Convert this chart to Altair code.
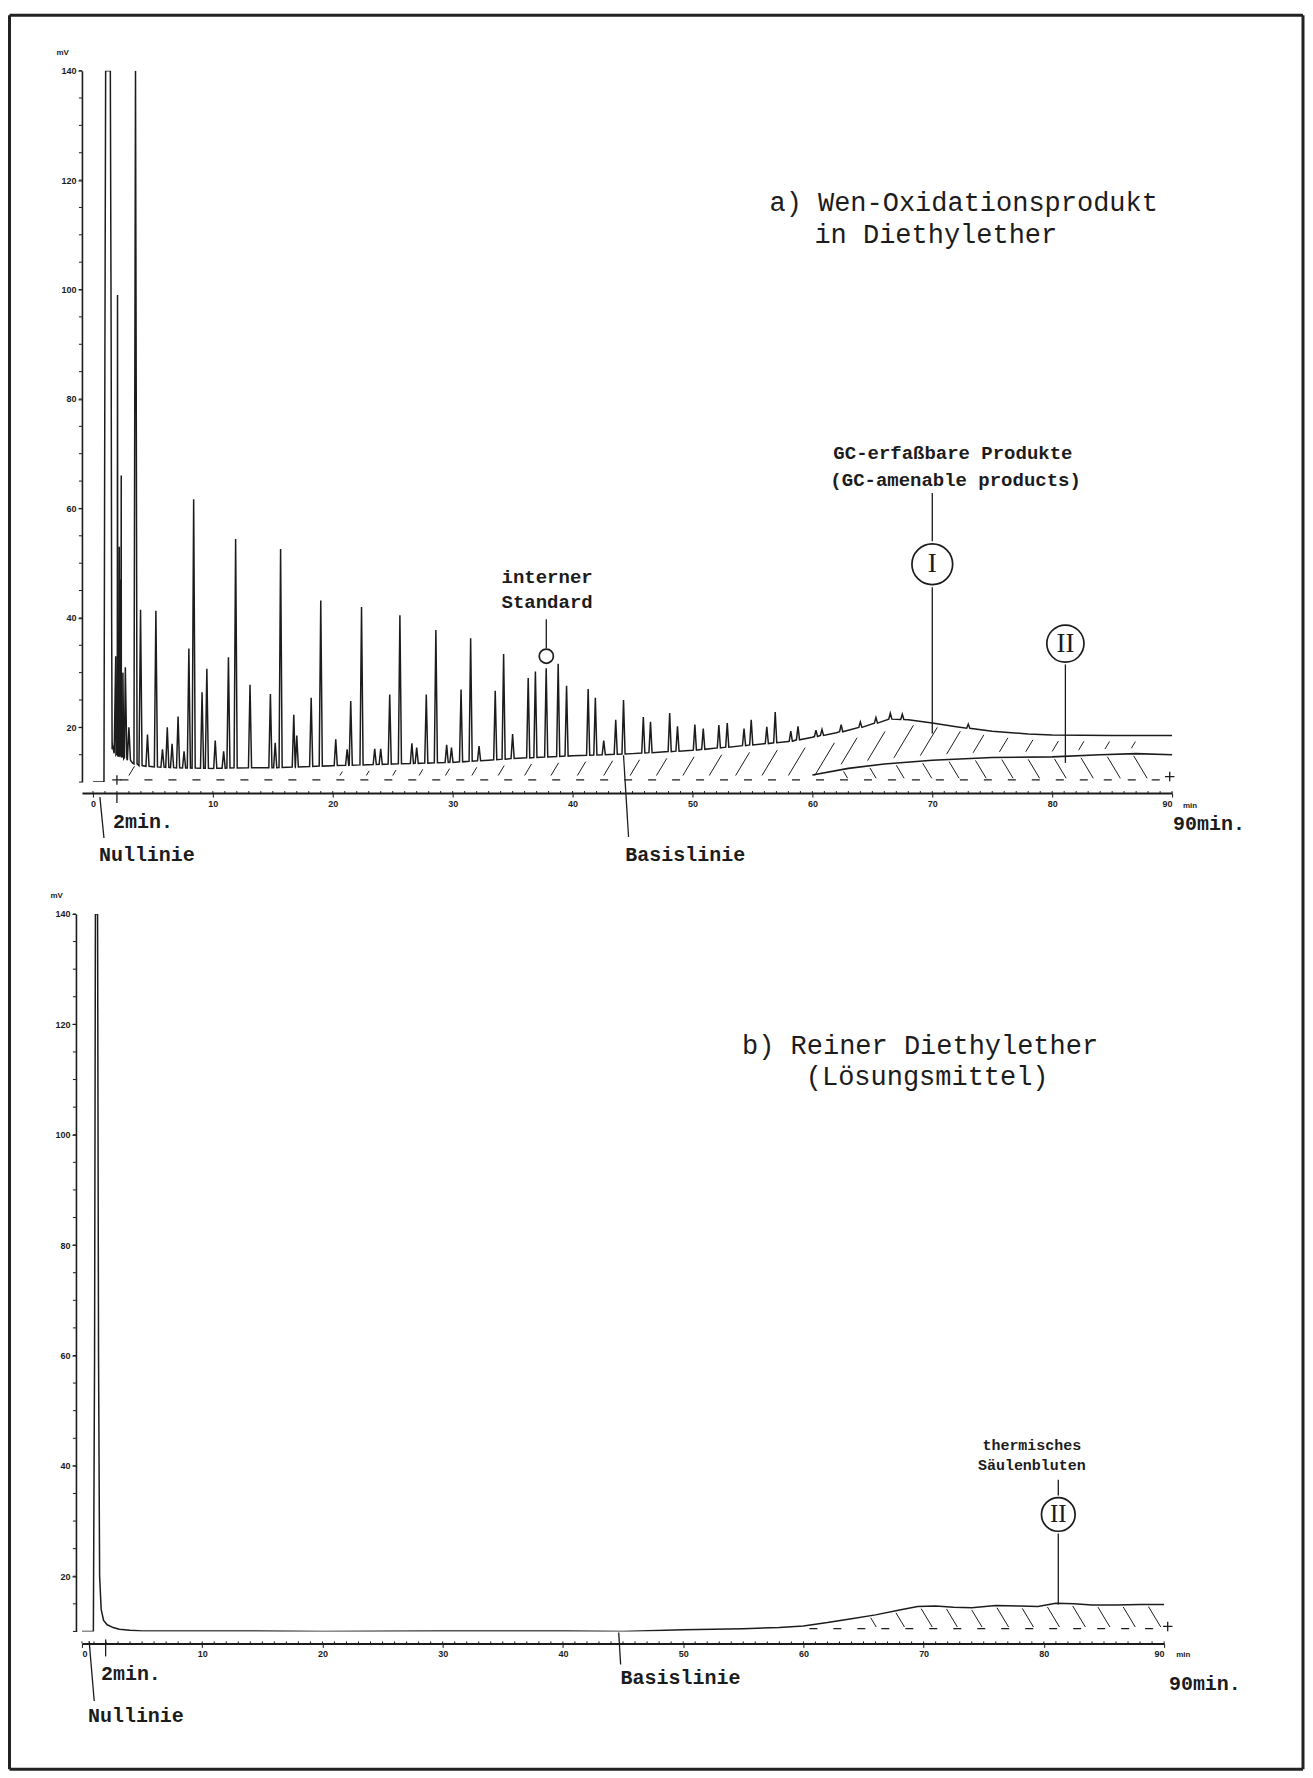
import altair as alt
import numpy as np
import pandas as pd

INK = "#1c1c1c"
MONO = "Liberation Mono"
SERIF = "Liberation Serif"
SANS = "Liberation Sans"

# ---------------- panel a: GC trace of the oxidation product ----------------
a_null_t = [0.0, 0.9]
a_null_v = [10.0, 10.0]
a_solv_t = [0.92, 1.0, 1.06, 1.45, 1.52, 1.56, 1.6]
a_solv_v = [10.0, 90.0, 140.0, 140.0, 90.0, 40.0, 17.0]
a_base_t = [1.6, 2.0, 2.5, 3.0, 3.3, 4, 5, 7, 10, 12, 15, 20, 25, 30, 33, 35, 40, 45,
            50, 55, 58, 60, 62, 64, 66.5, 68, 70, 72, 75, 78, 80, 85, 90]
a_base_v = [16, 15, 14.5, 14, 13.5, 13, 12.8, 12.6, 12.5, 12.6, 12.6, 13, 13.3, 13.6, 14, 14.3,
            14.8, 15.2, 15.8, 16.8, 17.4, 18.2, 19, 20, 21.5, 21.4, 20.8, 20.1, 19.3, 18.8, 18.6,
            18.5, 18.5]
a_peak_t = [1.9, 2.05, 2.2, 2.28, 2.36, 2.5, 2.7, 3.0, 3.55, 3.97, 4.55, 5.25, 5.8, 6.2, 6.6,
            7.1, 7.6, 8.0, 8.4, 9.1, 9.5, 10.2, 10.9, 11.3, 11.9, 13.1, 14.8, 15.2, 15.65, 16.75,
            17.0, 18.2, 19.0, 20.25, 21.2, 21.5, 22.4, 23.5, 24.0, 24.75, 25.6, 26.6, 27.0, 27.8,
            28.6, 29.5, 29.9, 30.7, 31.5, 32.2, 33.55, 34.25, 35.0, 36.3, 36.9, 37.8, 38.8, 39.5,
            41.3, 41.9, 42.6, 43.6, 44.25, 45.9, 46.5, 48.1, 48.75, 50.2, 50.9, 52.2, 52.9, 54.3,
            54.9, 56.2, 56.9, 58.2, 58.8, 60.3, 60.8, 62.4, 64.0, 65.3, 66.5, 67.5, 73.0]
a_peak_v = [33, 99, 53, 47, 66, 30, 31, 20, 140, 41.5, 18.7, 41.3, 16, 20, 17,
            22, 15.6, 34.4, 61.7, 26.4, 30.7, 17.6, 15.6, 32.8, 54.4, 27.8, 26.1, 17.2, 52.6, 22.3,
            18.5, 25.4, 43.2, 17.8, 16, 24.8, 42, 16.1, 16.1, 26, 40.5, 17.1, 16.3, 26,
            37.8, 16.8, 16.3, 26.9, 36.3, 16.6, 26.7, 33.4, 18.8, 29, 30.2, 30.8, 31.6, 27.6,
            27, 25.4, 17.6, 21.4, 25, 21.9, 21, 22.6, 20.2, 20.5, 19.8, 20.4, 20.8, 19.8,
            21.4, 20.1, 22.8, 19.3, 20.2, 19.5, 19.6, 20.5, 21, 21.8, 22.6, 22.4, 20.6]
a_line2_t = [60, 63, 66, 70, 75, 80, 84, 87, 90]
a_line2_v = [11.3, 12.5, 13.3, 14.0, 14.5, 14.6, 15.0, 15.2, 15.0]

# ---------------- panel b: pure solvent ----------------
b_t = [0, 0.95, 1.05, 1.12, 1.3, 1.38, 1.47, 1.6, 1.8, 2.1, 2.6, 3.1, 4.0, 5.0, 10, 20, 30, 40,
       45, 50, 55, 58, 60, 62, 64, 66, 68, 69.5, 71, 72.5, 74, 76, 78, 79.5, 81, 82.5, 84, 86,
       88, 90]
b_v = [10, 10, 60, 140, 140, 60, 20, 14, 12, 11.2, 10.7, 10.4, 10.2, 10.1, 10.1, 10.0, 10.1,
       10.1, 10.0, 10.3, 10.5, 10.7, 11.0, 11.6, 12.3, 13.0, 13.9, 14.5, 14.6, 14.4, 14.3, 14.7,
       14.6, 14.5, 15.1, 15.0, 14.8, 14.8, 14.9, 14.9]

x_ticks = [0, 10, 20, 30, 40, 50, 60, 70, 80, 90]
y_ticks = [20, 40, 60, 80, 100, 120, 140]
y_minor = list(range(10, 141, 5))
x_minor = list(range(0, 91, 1))

WA, HA = 1091, 712
WB, HB = 1083, 718
KA = HA / 130.0  # px per mV, panel a
KB = HB / 130.0


def build_trace(pre_t, pre_v, floor_t, floor_v, pk_t, pk_v, w=0.13):
    pts = list(zip(pre_t, pre_v))
    wins = [(p - w, p + w) for p in pk_t]
    for t, v in zip(floor_t, floor_v):
        if not any(a <= t <= b for a, b in wins):
            pts.append((t, v))
    for p, h in zip(pk_t, pk_v):
        fl = float(np.interp(p, floor_t, floor_v))
        pts += [(p - w, fl), (p, h), (p + w, fl)]
    pts.sort()
    df = pd.DataFrame(pts, columns=["t", "v"])
    df["o"] = range(len(df))
    return df


trace_a = build_trace(a_null_t + a_solv_t, a_null_v + a_solv_v, a_base_t, a_base_v, a_peak_t, a_peak_v)
trace_b = pd.DataFrame({"t": b_t, "v": b_v})
trace_b["o"] = range(len(trace_b))
line2_a = pd.DataFrame({"t": a_line2_t, "v": a_line2_v})


def floor_a(t):
    return float(np.interp(t, a_base_t, a_base_v))


def line2(t):
    return float(np.interp(t, a_line2_t, a_line2_v))


def floor_b(t):
    return float(np.interp(t, b_t, b_v))


# hatch strokes (decorative fill pattern of the integrated areas)
rows = []
for t in np.arange(3.0, 88.5, 2.2):
    lo = 11.2 if t < 60.5 else line2(t) + 1.0
    hi = floor_a(t) - 1.1
    if hi - lo > 0.6:
        dt = (hi - lo) * KA / 12.0 * 0.6
        rows.append({"t": t, "v": lo, "t2": t + dt, "v2": hi})
hatch_a1 = pd.DataFrame(rows)
rows = []
for t in np.arange(62.6, 88.8, 2.2):
    hi = line2(t) - 0.4
    lo = 10.7
    dt = (hi - lo) * KA / 12.0 * 0.6
    rows.append({"t": t, "v": hi, "t2": t + dt, "v2": lo})
hatch_a2 = pd.DataFrame(rows)
rows = []
for t in np.arange(65.6, 88.8, 2.1):
    hi = floor_b(t) - 0.4
    lo = 10.8
    if hi - lo > 0.6:
        dt = (hi - lo) * KB / 12.0 * 0.6
        rows.append({"t": t, "v": hi, "t2": t + dt, "v2": lo})
hatch_b = pd.DataFrame(rows)


def make_axes(xoff, yoff):
    xax = alt.Axis(values=x_ticks, title=None, grid=False, tickSize=4, tickColor=INK,
                   domainColor=INK, domainWidth=2, labelFont=SANS, labelFontSize=9,
                   labelFontWeight="bold", labelColor=INK, labelPadding=2, offset=xoff)
    yax = alt.Axis(values=y_ticks, title="mV", titleAngle=0, titleX=-26, titleY=-14,
                   titleAlign="left", titleFont=SANS, titleFontSize=8, titleFontWeight="bold",
                   titleColor=INK, grid=False, tickSize=4, tickColor=INK, domainColor=INK,
                   domainWidth=1.6, labelFont=SANS, labelFontSize=9, labelFontWeight="bold",
                   labelColor=INK, labelPadding=2, offset=yoff)
    return xax, yax


class Ctx:
    def __init__(self, xs, ys, xax, yax):
        self.xs, self.ys, self.xax, self.yax = xs, ys, xax, yax

    def X(self, f="t"):
        return alt.X(f + ":Q", scale=self.xs, axis=self.xax)

    def Y(self, f="v"):
        return alt.Y(f + ":Q", scale=self.ys, axis=self.yax)


def panel(trace, xdom, W, H, yoff, xoff, extra):
    xs = alt.Scale(domain=xdom, nice=False, zero=False)
    ys = alt.Scale(domain=[10, 140], nice=False, zero=False)
    xax, yax = make_axes(xoff, yoff)
    c = Ctx(xs, ys, xax, yax)
    base = alt.Chart(trace).mark_line(color=INK, strokeWidth=1.5, clip=True).encode(
        x=c.X(), y=c.Y(), order="o:Q")
    ymin = alt.Chart(pd.DataFrame({"v": y_minor})).mark_rule(color=INK, strokeWidth=1).encode(
        y=c.Y(), x=alt.value(-yoff - 3), x2=alt.value(-yoff))
    xmin = alt.Chart(pd.DataFrame({"t": x_minor})).mark_rule(color=INK, strokeWidth=1).encode(
        x=c.X(), y=alt.value(H + xoff - 2), y2=alt.value(H + xoff))
    layers = [base, ymin, xmin] + [e(c) for e in extra]
    return alt.layer(*layers).properties(width=W, height=H)


def rules(df, width=1.2, dash=None):
    def f(c):
        kw = dict(color=INK, strokeWidth=width)
        if dash:
            kw["strokeDash"] = dash
        enc = dict(x=c.X(), y=c.Y())
        if "t2" in df.columns:
            enc["x2"] = "t2:Q"
        if "v2" in df.columns:
            enc["y2"] = "v2:Q"
        return alt.Chart(df).mark_rule(**kw).encode(**enc)
    return f


def texts(df, font, size, weight="normal", align="left"):
    def f(c):
        return alt.Chart(df).mark_text(font=font, fontSize=size, fontWeight=weight, align=align,
                                       baseline="middle", color=INK).encode(
            x=c.X(), y=c.Y(), text="s:N")
    return f


def circles(df):
    def f(c):
        return alt.Chart(df).mark_point(shape="circle", filled=True, fill="white", stroke=INK,
                                        strokeWidth=1.7, opacity=1).encode(
            x=c.X(), y=c.Y(), size=alt.Size("r:Q", scale=None, legend=None))
    return f


def pluses(df):
    def f(c):
        return alt.Chart(df).mark_point(shape="M-1,0L1,0M0,-1L0,1", filled=False, stroke=INK,
                                        strokeWidth=1.3, size=90, opacity=1).encode(
            x=c.X(), y=c.Y())
    return f


def line_layer(df, width=1.6):
    def f(c):
        return alt.Chart(df).mark_line(color=INK, strokeWidth=width).encode(x=c.X(), y=c.Y())
    return f


def frame(c):
    d = alt.Data(values=[{"k": 0}])
    L, R, T, B = -72.5, 1222, -55.5, 1700
    segs = [
        dict(x=alt.value(L), x2=alt.value(R), y=alt.value(T)),
        dict(x=alt.value(L), x2=alt.value(R), y=alt.value(B)),
        dict(x=alt.value(L), y=alt.value(T), y2=alt.value(B)),
        dict(x=alt.value(R), y=alt.value(T), y2=alt.value(B)),
    ]
    return alt.layer(*[alt.Chart(d).mark_rule(color="#222", strokeWidth=3).encode(**s) for s in segs])


# ---------------- annotations panel a ----------------
a_leaders = pd.DataFrame([
    {"t": 0.58, "v": 7.26, "t2": 0.92, "v2": -0.22},      # Nullinie
    {"t": 44.25, "v": 14.9, "t2": 44.67, "v2": -0.04},    # Basislinie
    {"t": 2.0, "v": 8.0, "t2": 2.0, "v2": 6.2},           # 2 min marker
    {"t": 37.81, "v": 39.76, "t2": 37.81, "v2": 34.47},   # interner Standard
    {"t": 70.0, "v": 54.0, "t2": 70.0, "v2": 62.8},       # I above
    {"t": 70.0, "v": 18.9, "t2": 70.0, "v2": 45.6},       # I below
    {"t": 81.1, "v": 13.5, "t2": 81.1, "v2": 31.5},       # II below
])
a_dash = pd.DataFrame([{"t": 2.3, "v": 10.4, "t2": 89.5}])
a_titles = pd.DataFrame([
    {"t": 56.42, "v": 115.9, "s": "a) Wen-Oxidationsprodukt"},
    {"t": 60.17, "v": 110.05, "s": "in Diethylether"},
])
a_gc = pd.DataFrame([
    {"t": 61.75, "v": 70.07, "s": "GC-erfaßbare Produkte"},
    {"t": 61.5, "v": 65.14, "s": "(GC-amenable products)"},
])
a_is = pd.DataFrame([
    {"t": 34.08, "v": 47.4, "s": "interner"},
    {"t": 34.08, "v": 42.9, "s": "Standard"},
])
a_small = pd.DataFrame([
    {"t": 0.5, "v": -3.33, "s": "Nullinie"},
    {"t": 1.67, "v": 2.7, "s": "2min."},
    {"t": 44.4, "v": -3.33, "s": "Basislinie"},
    {"t": 90.08, "v": 2.33, "s": "90min."},
])
a_min = pd.DataFrame([{"t": 90.9, "v": 5.7, "s": "min"}])
a_circ = pd.DataFrame([
    {"t": 37.81, "v": 33.0, "r": 201, "s": ""},
    {"t": 70.0, "v": 49.8, "r": 1662, "s": "I"},
    {"t": 81.1, "v": 35.3, "r": 1385, "s": "II"},
])
a_plus = pd.DataFrame([{"t": 2.0, "v": 10.4}, {"t": 89.8, "v": 11.0}])

panel_a = panel(trace_a, [-0.917, 90], WA, HA, 0, 11, [
    frame,
    rules(hatch_a1, 1.0), rules(hatch_a2, 1.0),
    rules(a_dash, 1.3, [8, 16]),
    line_layer(line2_a, 1.6),
    rules(a_leaders, 1.3),
    circles(a_circ),
    texts(a_circ[a_circ.s != ""], SERIF, 27, "normal", "center"),
    pluses(a_plus),
    texts(a_titles, MONO, 27),
    texts(a_gc, MONO, 19, "bold"),
    texts(a_is, MONO, 19, "bold"),
    texts(a_small, MONO, 20, "bold"),
    texts(a_min, SANS, 8, "bold"),
])

# ---------------- annotations panel b ----------------
b_leaders = pd.DataFrame([
    {"t": 0.6, "v": 8.24, "t2": 1.02, "v2": -2.6},
    {"t": 44.64, "v": 9.8, "t2": 44.8, "v2": 4.0},
    {"t": 1.97, "v": 8.55, "t2": 1.97, "v2": 5.47},
    {"t": 81.2, "v": 14.9, "t2": 81.2, "v2": 27.76},
    {"t": 81.2, "v": 34.64, "t2": 81.2, "v2": 37.5},
])
b_dash = pd.DataFrame([{"t": 60.5, "v": 10.5, "t2": 89.5}])
b_titles = pd.DataFrame([
    {"t": 54.9, "v": 116.1, "s": "b) Reiner Diethylether"},
    {"t": 60.2, "v": 110.5, "s": "(Lösungsmittel)"},
])
b_therm = pd.DataFrame([
    {"t": 79.0, "v": 43.7, "s": "thermisches"},
    {"t": 79.0, "v": 40.1, "s": "Säulenbluten"},
])
b_small = pd.DataFrame([
    {"t": 0.5, "v": -5.4, "s": "Nullinie"},
    {"t": 1.58, "v": 2.2, "s": "2min."},
    {"t": 44.8, "v": 1.49, "s": "Basislinie"},
    {"t": 90.4, "v": 0.4, "s": "90min."},
])
b_min = pd.DataFrame([{"t": 91.0, "v": 5.65, "s": "min"}])
b_circ = pd.DataFrame([{"t": 81.2, "v": 31.2, "r": 1134, "s": "II"}])
b_plus = pd.DataFrame([{"t": 90.3, "v": 10.9}])

panel_b = panel(trace_b, [0, 90], WB, HB, 6, 12, [
    rules(hatch_b, 1.0),
    rules(b_dash, 1.3, [8, 16]),
    rules(b_leaders, 1.3),
    circles(b_circ),
    texts(b_circ, SERIF, 25, "normal", "center"),
    pluses(b_plus),
    texts(b_titles, MONO, 27),
    texts(b_therm, MONO, 15, "bold", "center"),
    texts(b_small, MONO, 20, "bold"),
    texts(b_min, SANS, 8, "bold"),
])

chart = alt.VConcatChart(vconcat=[panel_a, panel_b], spacing=132, bounds="flush").properties(
    padding={"left": 0, "top": 5, "right": 0, "bottom": 0},
    background="white",
).configure_view(stroke=None)

chart.save("out.html", embed_options={"renderer": "svg", "actions": False})
